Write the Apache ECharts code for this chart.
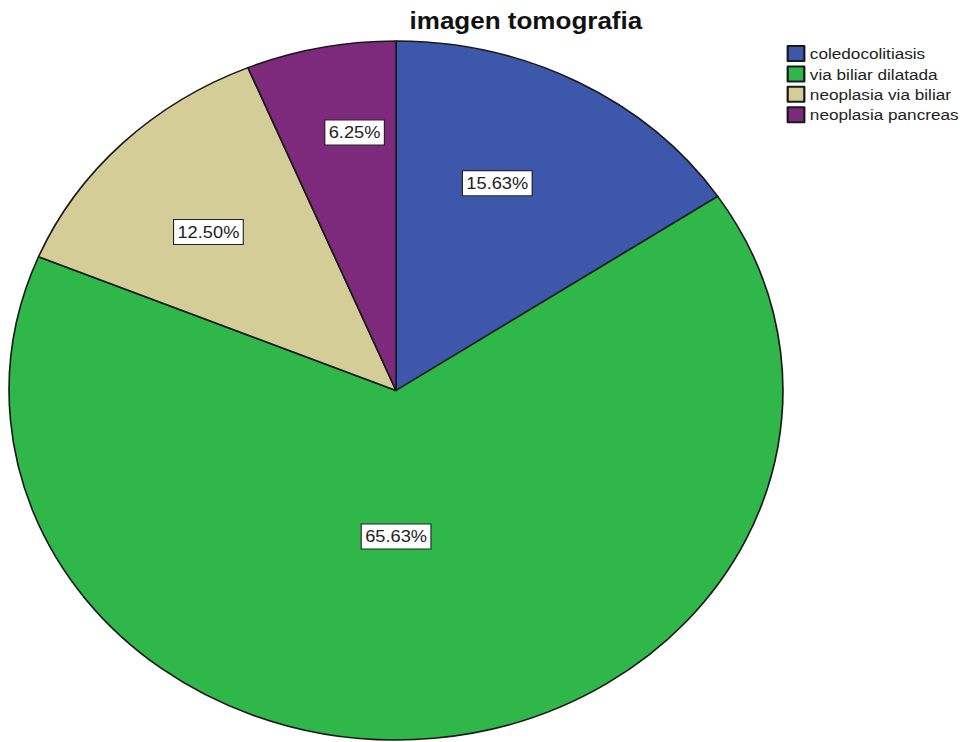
<!DOCTYPE html>
<html>
<head>
<meta charset="utf-8">
<script src="https://cdn.jsdelivr.net/npm/echarts@6/dist/echarts.min.js"></script>
<style>
  html, body { margin: 0; padding: 0; background: #fff; overflow: hidden; }
  /* the original picture is stretched horizontally, so the whole chart is too */
  #chart { position: absolute; left: 0; top: 0; width: 878px; height: 742px;
           transform: scaleX(1.1071); transform-origin: 0 0; }
</style>
</head>
<body>
<div id="chart"></div>
<script>
var categories = ['coledocolitiasis', 'via biliar dilatada', 'neoplasia via biliar', 'neoplasia pancreas'];
var counts = [5, 21, 4, 2];
var colors = ['#3d57ab', '#2fb74a', '#d4cd98', '#7d2a7c'];

// label placement inside each slice (turn from mid angle in degrees, fraction of radius)
var labelTurn = [-4.3, 5.6, -1.9, 3.0];
var labelFrac = [0.648, 0.418, 0.664, 0.746];

var cx = 357.7, cy = 390.5, R = 349.5;
var total = counts.reduce(function (a, b) { return a + b; }, 0);

function midAngle(i) {
    var before = 0;
    for (var k = 0; k < i; k++) before += counts[k];
    return (before + counts[i] / 2) / total * 360;
}

var chart = echarts.init(document.getElementById('chart'), null, { renderer: 'svg' });
chart.setOption({
    animation: false,
    backgroundColor: '#fff',
    title: {
        text: 'imagen tomografia',
        left: 470,
        top: 4,
        textAlign: 'center',
        textStyle: { fontFamily: 'Liberation Sans', fontWeight: 'bold', fontSize: 23.5, color: '#111' }
    },
    legend: {
        orient: 'vertical',
        left: 705.5,
        top: 40,
        itemWidth: 15,
        itemHeight: 15,
        itemGap: 3.4,
        icon: 'rect',
        data: categories,
        textStyle: { fontFamily: 'Liberation Sans', fontSize: 15.5, color: '#222' }
    },
    color: colors,
    series: [{
        type: 'pie',
        center: [cx, cy],
        radius: R,
        startAngle: 90,
        clockwise: true,
        silent: true,
        itemStyle: { borderColor: '#1a1a1a', borderWidth: 1.5 },
        data: categories.map(function (c, i) { return { name: c, value: counts[i] }; }),
        label: {
            show: true,
            position: 'inside',
            formatter: function (p) { return (p.value / total * 100).toFixed(2) + '%'; },
            fontFamily: 'Liberation Sans',
            fontSize: 16.5,
            color: '#222',
            backgroundColor: '#fff',
            borderColor: '#222',
            borderWidth: 1,
            padding: [4, 3, 3, 3]
        },
        labelLine: { show: false },
        labelLayout: function (params) {
            var i = params.dataIndex;
            var a = (midAngle(i) + labelTurn[i]) * Math.PI / 180;
            return {
                x: cx + labelFrac[i] * R * Math.sin(a),
                y: cy - labelFrac[i] * R * Math.cos(a)
            };
        }
    }]
});
</script>
</body>
</html>
